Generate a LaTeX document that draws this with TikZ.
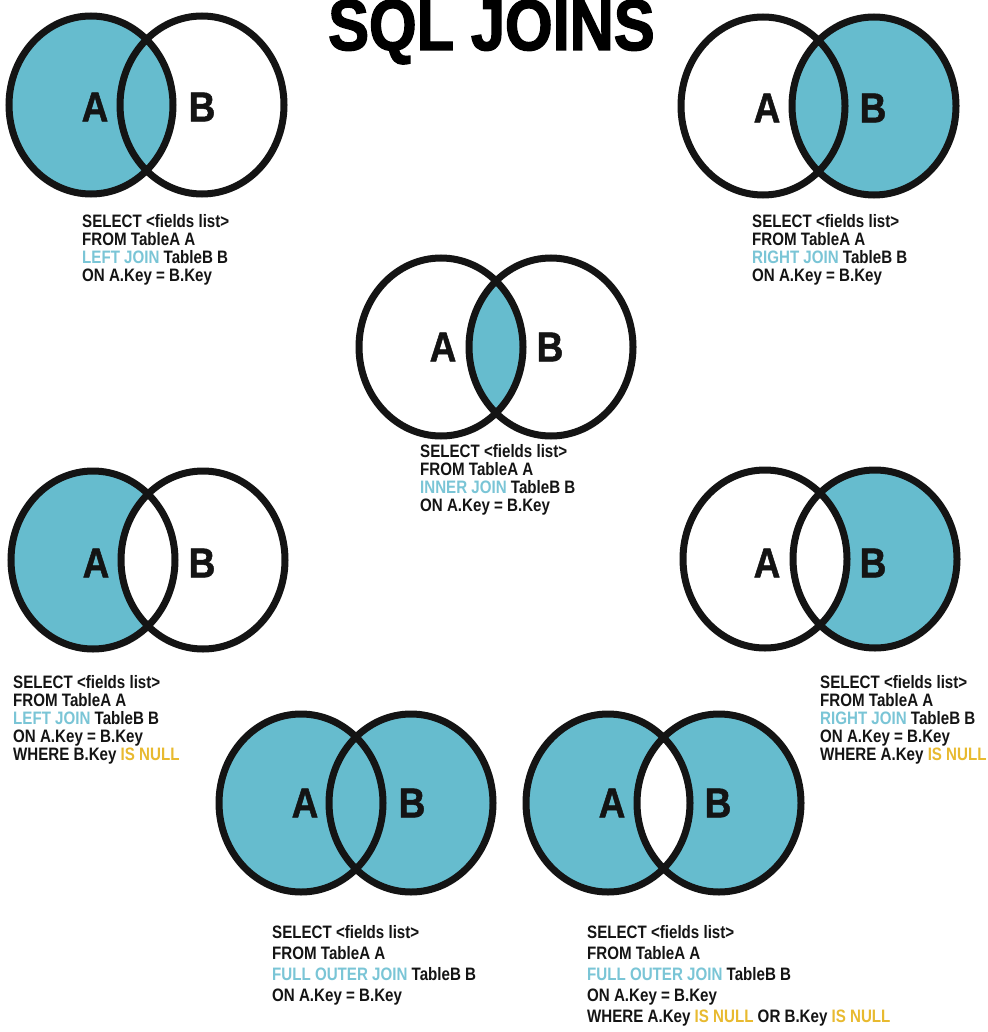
\documentclass[tikz,border=0pt]{standalone}
\usepackage{fontspec}
\setmainfont{Liberation Sans}
\newfontfamily\codefont[FakeStretch=0.84]{Liberation Sans}
\newfontfamily\labfont[FakeStretch=0.88,FakeBold=1.2]{Liberation Sans}
\newfontfamily\titlefont[FakeStretch=0.85,FakeBold=2]{Liberation Sans}
\definecolor{venn}{RGB}{102,188,206}
\definecolor{joinblue}{RGB}{122,197,214}
\definecolor{nullyellow}{RGB}{232,186,48}
\definecolor{ink}{RGB}{20,20,20}
\newcommand{\jb}[1]{\textcolor{joinblue}{#1}}
\newcommand{\ny}[1]{\textcolor{nullyellow}{#1}}
\tikzset{
  ell/.style={x radius=82pt, y radius=89pt},
  ring/.style={draw=ink, line width=7pt},
  setlab/.style={font=\labfont\fontsize{42}{42}\selectfont\bfseries, inner sep=0pt, text=ink},
  codeline/.style={anchor=base west, inner sep=0pt, font=\codefont\fontsize{18}{18}\selectfont\bfseries, text=ink},
  titletext/.style={anchor=base west, inner sep=0pt, font=\titlefont\fontsize{72}{72}\selectfont\bfseries, text=black}
}
\begin{document}
\begin{tikzpicture}[x=1pt,y=-1pt]
\useasboundingbox (0,0) rectangle (987,1032);
\fill[white] (0,0) rectangle (987,1032);

% title
\node[titletext] (title) at (328,50) {SQL JOINS};

% ---- top-left: LEFT JOIN
\fill[venn] (91,105) ellipse [ell];
\draw[ring] (91,105) ellipse [ell] (202,105) ellipse [ell];
\node[setlab] (tlA) at (95,107) {A};
\node[setlab] (tlB) at (202,107) {B};
\node[codeline] (tl1) at (82,227) {SELECT <fields list>};
\node[codeline] (tl2) at (82,245) {FROM TableA A};
\node[codeline] (tl3) at (82,263) {\jb{LEFT JOIN} TableB B};
\node[codeline] (tl4) at (82,281) {ON A.Key = B.Key};

% ---- top-right: RIGHT JOIN
\fill[venn] (874,106) ellipse [ell];
\draw[ring] (763,106) ellipse [ell] (874,106) ellipse [ell];
\node[setlab] (trA) at (767,108) {A};
\node[setlab] (trB) at (873,108) {B};
\node[codeline] (tr1) at (752,227) {SELECT <fields list>};
\node[codeline] (tr2) at (752,245) {FROM TableA A};
\node[codeline] (tr3) at (752,263) {\jb{RIGHT JOIN} TableB B};
\node[codeline] (tr4) at (752,281) {ON A.Key = B.Key};

% ---- center: INNER JOIN
\begin{scope}
  \clip (441,347) ellipse [ell];
  \fill[venn] (551,347) ellipse [ell];
\end{scope}
\draw[ring] (441,347) ellipse [ell] (551,347) ellipse [ell];
\node[setlab] (cA) at (443,347) {A};
\node[setlab] (cB) at (550,347) {B};
\node[codeline] (c1) at (420,457) {SELECT <fields list>};
\node[codeline] (c2) at (420,475) {FROM TableA A};
\node[codeline] (c3) at (420,493) {\jb{INNER JOIN} TableB B};
\node[codeline] (c4) at (420,511) {ON A.Key = B.Key};

% ---- middle-left: LEFT JOIN, B.Key IS NULL
\fill[venn] (93,560) ellipse [ell];
\begin{scope}
  \clip (93,560) ellipse [ell];
  \fill[white] (203,560) ellipse [ell];
\end{scope}
\draw[ring] (93,560) ellipse [ell] (203,560) ellipse [ell];
\node[setlab] (mlA) at (96,563) {A};
\node[setlab] (mlB) at (202,563) {B};
\node[codeline] (ml1) at (13,688) {SELECT <fields list>};
\node[codeline] (ml2) at (13,706) {FROM TableA A};
\node[codeline] (ml3) at (13,724) {\jb{LEFT JOIN} TableB B};
\node[codeline] (ml4) at (13,742) {ON A.Key = B.Key};
\node[codeline] (ml5) at (13,760) {WHERE B.Key \ny{IS NULL}};

% ---- middle-right: RIGHT JOIN, A.Key IS NULL
\fill[venn] (875,559) ellipse [ell];
\begin{scope}
  \clip (875,559) ellipse [ell];
  \fill[white] (765,559) ellipse [ell];
\end{scope}
\draw[ring] (765,559) ellipse [ell] (875,559) ellipse [ell];
\node[setlab] (mrA) at (767,563) {A};
\node[setlab] (mrB) at (873,563) {B};
\node[codeline] (mr1) at (820,688) {SELECT <fields list>};
\node[codeline] (mr2) at (820,706) {FROM TableA A};
\node[codeline] (mr3) at (820,724) {\jb{RIGHT JOIN} TableB B};
\node[codeline] (mr4) at (820,742) {ON A.Key = B.Key};
\node[codeline] (mr5) at (820,760) {WHERE A.Key \ny{IS NULL}};

% ---- bottom-left: FULL OUTER JOIN
\fill[venn] (301,803) ellipse [ell] (411,803) ellipse [ell];
\draw[ring] (301,803) ellipse [ell] (411,803) ellipse [ell];
\node[setlab] (blA) at (305,803) {A};
\node[setlab] (blB) at (412,803) {B};
\node[codeline] (bl1) at (272,938) {SELECT <fields list>};
\node[codeline] (bl2) at (272,959) {FROM TableA A};
\node[codeline] (bl3) at (272,980) {\jb{FULL OUTER JOIN} TableB B};
\node[codeline] (bl4) at (272,1001) {ON A.Key = B.Key};

% ---- bottom-right: FULL OUTER JOIN excluding intersection
\fill[venn] (608,803) ellipse [ell];
\fill[venn] (719,803) ellipse [ell];
\begin{scope}
  \clip (608,803) ellipse [ell];
  \fill[white] (719,803) ellipse [ell];
\end{scope}
\draw[ring] (608,803) ellipse [ell] (719,803) ellipse [ell];
\node[setlab] (brA) at (612,803) {A};
\node[setlab] (brB) at (718,803) {B};
\node[codeline] (br1) at (587,938) {SELECT <fields list>};
\node[codeline] (br2) at (587,959) {FROM TableA A};
\node[codeline] (br3) at (587,980) {\jb{FULL OUTER JOIN} TableB B};
\node[codeline] (br4) at (587,1001) {ON A.Key = B.Key};
\node[codeline] (br5) at (587,1022) {WHERE A.Key \ny{IS NULL} OR B.Key \ny{IS NULL}};
\end{tikzpicture}
\end{document}
